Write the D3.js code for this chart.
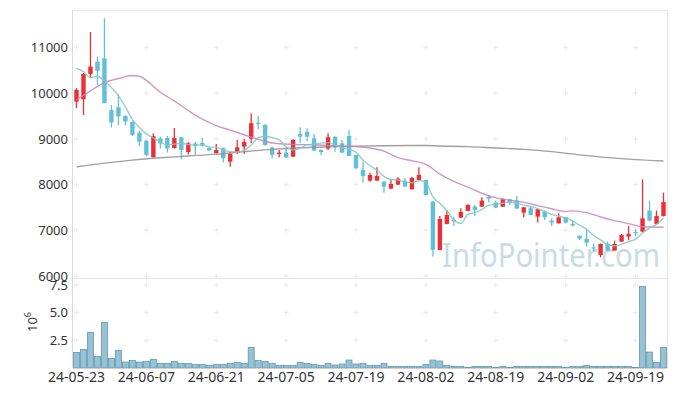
<!DOCTYPE html>
<html lang="en">
<head>
    <meta charset="UTF-8">
    <title>Candles</title>
    <script src="https://d3js.org/d3.v7.min.js"></script>
    <style>
        body { margin: 0; background: #fff; }
        svg { display: block; }
        svg text { font-family: 'Noto Sans', sans-serif; }
        .tick text { fill: #333; font-size: 13px; }
    </style>
</head>
<body>
    <svg width="677" height="396"></svg>
    <script>
        const dates = [
            '24-05-23','24-05-24','24-05-27','24-05-28','24-05-29','24-05-30','24-05-31',
            '24-06-03','24-06-04','24-06-05','24-06-07','24-06-10','24-06-11','24-06-12','24-06-13','24-06-14',
            '24-06-17','24-06-18','24-06-19','24-06-20','24-06-21','24-06-24','24-06-25','24-06-26','24-06-27','24-06-28',
            '24-07-01','24-07-02','24-07-03','24-07-04','24-07-05','24-07-08','24-07-09','24-07-10','24-07-11','24-07-12',
            '24-07-15','24-07-16','24-07-17','24-07-18','24-07-19','24-07-22','24-07-23','24-07-24','24-07-25','24-07-26',
            '24-07-29','24-07-30','24-07-31','24-08-01','24-08-02','24-08-05','24-08-06','24-08-07','24-08-08','24-08-09',
            '24-08-12','24-08-13','24-08-14','24-08-16','24-08-19','24-08-20','24-08-21','24-08-22','24-08-23','24-08-26',
            '24-08-27','24-08-28','24-08-29','24-08-30','24-09-02','24-09-03','24-09-04','24-09-05','24-09-06','24-09-09',
            '24-09-10','24-09-11','24-09-12','24-09-13','24-09-19','24-09-20','24-09-23','24-09-24','24-09-25'
        ];
        const opens = [9814,9866,10420,10690,10760,9630,9690,9500,9370,9136,8960,8600,9010,9020,8800,9034,8713,8900,8910,8800,
            8684,8794,8502,8706,8830,9005,9350,9304,8808,8670,8699,8611,9107,9151,9012,8757,8786,9049,8903,9063,
            8648,8319,8086,8086,8064,7911,7998,8086,7896,8100,8100,7627,6569,7138,7225,7277,7422,7517,7517,7736,
            7605,7517,7677,7649,7386,7481,7298,7408,7211,7152,7284,7138,6875,6810,6627,6460,6700,6555,6751,6861,
            6963,6970,7430,7138,7313];
        const highs = [10110,10440,11340,10800,11640,9740,9980,9520,9380,9180,8970,9120,9050,9060,9240,9040,8932,8930,9027,8830,
            8888,8810,8720,8976,9000,9560,9500,9320,8830,8757,8830,8990,9253,9230,9107,8760,9122,9050,8976,9195,
            8648,8500,8260,8378,8070,8115,8159,8137,8173,8378,8110,7640,7313,7444,7298,7481,7570,7554,7721,7772,
            7649,7700,7690,7750,7510,7517,7465,7430,7262,7371,7290,7225,6897,7043,6700,6710,6752,6773,6920,7094,
            7021,8115,7649,7430,7823];
        const lows = [9670,9520,10330,10180,9780,9250,9300,9300,9060,8845,8620,8590,8790,8700,8790,8553,8655,8650,8830,8740,
            8680,8480,8392,8670,8670,8903,9210,8850,8575,8600,8590,8611,8917,8946,8743,8648,8757,8720,8684,8626,
            8340,8042,8064,8080,7823,7900,7990,7950,7890,8095,7760,6423,6560,7130,7094,7270,7415,7313,7510,7605,
            7480,7510,7554,7470,7284,7330,7167,7225,7094,7150,7152,7080,6788,6642,6532,6409,6550,6550,6745,6788,
            6875,6960,7196,7130,7300];
        const closes = [10070,10420,10580,10490,9780,9360,9490,9380,9085,8940,8650,9060,8900,8790,9020,8757,8903,8840,8852,8745,
            8757,8575,8670,8815,8932,9341,9335,8867,8648,8699,8590,8976,9049,9049,8743,8713,9034,8815,8699,8626,
            8356,8188,8210,8188,7955,8013,8130,7955,8144,8210,7772,6569,7247,7335,7196,7400,7554,7444,7649,7692,
            7495,7677,7605,7473,7502,7335,7459,7284,7167,7284,7167,7109,6817,6729,6598,6700,6555,6700,6897,6919,
            6934,7262,7211,7313,7619];
        // volume in millions of shares
        const volumes = [1.41,1.68,3.21,1.05,4.11,0.87,1.59,0.54,0.69,0.54,0.60,0.78,0.42,0.42,0.60,0.42,0.42,0.33,0.33,0.24,
            0.33,0.33,0.42,0.51,0.42,1.86,0.69,0.60,0.42,0.24,0.24,0.24,0.51,0.42,0.33,0.24,0.42,0.27,0.36,0.72,
            0.36,0.42,0.24,0.24,0.42,0.15,0.15,0.15,0.15,0.15,0.33,0.72,0.63,0.24,0.15,0.15,0.04,0.15,0.15,0.15,
            0.04,0.15,0.04,0.15,0.15,0.15,0.15,0.15,0.15,0.15,0.04,0.15,0.15,0.24,0.15,0.15,0.15,0.15,0.15,0.15,
            0.04,7.37,1.44,0.51,1.86];
        const ma5 = [10550,10470,10340,10370,10268,10126,9940,9700,9419,9251,9109,9023,8927,8868,8884,8905,8874,8862,8874,8819,
            8819,8754,8720,8712,8750,8867,9019,9058,9025,8978,8828,8756,8792,8873,8881,8906,8918,8871,8801,8777,
            8706,8537,8416,8314,8179,8111,8099,8048,8039,8090,8042,7730,7588,7427,7224,7149,7346,7386,7449,7548,
            7567,7591,7624,7588,7550,7518,7475,7411,7349,7306,7272,7202,7109,7021,6884,6791,6680,6656,6690,6754,
            6801,6942,7045,7128,7268];
        // slower averages, read at a subset of days
        const ma20Days = [0,2,4,6,8,9,10,12,14,16,18,20,22,24,26,28,31,34,37,40,42,44,46,48,50,52,54,56,58,60,62,64,66,68,70,71,73,75,77,79,81,84];
        const ma20 = [9850,10050,10230,10320,10385,10370,10280,10020,9830,9620,9430,9290,9190,9090,8990,8910,8880,8870,8850,8830,
            8800,8730,8590,8520,8440,8230,8070,7945,7810,7710,7660,7610,7540,7470,7410,7425,7385,7290,7210,7145,7075,7065];
        const ma120Days = [0,4,8,12,16,20,24,28,32,36,40,44,48,50,52,56,60,64,68,72,76,80,84];
        const ma120 = [8390,8470,8535,8585,8625,8665,8720,8770,8805,8825,8840,8850,8855,8855,8845,8830,8800,8770,8720,8650,8590,8545,8515];

        const priceTicks = [6000, 7000, 8000, 9000, 10000, 11000];
        const volTicks = [2.5, 5.0, 7.5];

        const padL = 73, padR = 667, padT = 10, split = 278, padB = 368;
        const svg = d3.select('svg');

        const x = d3.scaleBand().domain(dates).range([padL, padR]).padding(0);
        const cx = d => x(d) + x.bandwidth() / 2;
        const y = d3.scaleLinear().domain([5955, 11820]).range([split, padT]);
        const yv = d3.scaleLinear().domain([0, 8.13]).range([padB, split]);

        const candles = dates.map((d, i) => ({
            date: d, open: opens[i], high: highs[i], low: lows[i], close: closes[i], vol: volumes[i]
        }));

        // watermark
        svg.append('text')
            .attr('x', 442).attr('y', 267)
            .attr('textLength', 218).attr('lengthAdjust', 'spacingAndGlyphs')
            .style('font-size', '33px')
            .style('fill', '#c9dbe6')
            .text('InfoPointer.com');

        // frame
        const frame = svg.append('g').attr('stroke', '#e6e6e6').attr('fill', 'none');
        frame.append('line').attr('x1', padL).attr('x2', padR).attr('y1', padT + 0.5).attr('y2', padT + 0.5);
        frame.append('line').attr('x1', padL).attr('x2', padR).attr('y1', split + 0.5).attr('y2', split + 0.5);
        frame.append('line').attr('x1', padR + 0.5).attr('x2', padR + 0.5).attr('y1', padT).attr('y2', padB);
        frame.append('line').attr('x1', padL - 0.5).attr('x2', padL - 0.5).attr('y1', padT).attr('y2', padB).attr('stroke', '#dcdcdc');

        // little + marks where the grid would cross
        const xTicks = dates.filter((d, i) => i % 10 === 0);
        const crossY = priceTicks.map(v => y(v)).concat(volTicks.map(v => yv(v)));
        const crosses = svg.append('g').attr('stroke', '#e8e8e8');
        xTicks.forEach(d => {
            crossY.forEach(cy => {
                crosses.append('line').attr('x1', cx(d) - 2.5).attr('x2', cx(d) + 2.5).attr('y1', cy).attr('y2', cy);
                crosses.append('line').attr('x1', cx(d)).attr('x2', cx(d)).attr('y1', cy - 2.5).attr('y2', cy + 2.5);
            });
        });

        // volume bars
        svg.append('g')
            .selectAll('rect')
            .data(candles)
            .enter().append('rect')
            .attr('x', d => x(d.date) + 0.5)
            .attr('width', x.bandwidth() - 1)
            .attr('y', d => yv(d.vol))
            .attr('height', d => padB - yv(d.vol))
            .attr('fill', '#98c1d2')
            .attr('stroke', '#5f9ab5')
            .attr('stroke-width', 0.8);

        svg.append('line')
            .attr('x1', padL).attr('x2', padR)
            .attr('y1', padB + 0.5).attr('y2', padB + 0.5)
            .attr('stroke', '#d0d0d0');

        // candles
        const up = '#ec2f35';
        const down = '#62bfd8';
        const bodyW = 4.4;
        const cg = svg.append('g')
            .selectAll('g')
            .data(candles)
            .enter().append('g');

        cg.append('line')
            .attr('x1', d => cx(d.date)).attr('x2', d => cx(d.date))
            .attr('y1', d => y(d.high)).attr('y2', d => y(d.low))
            .attr('stroke', d => d.close >= d.open ? up : down)
            .attr('stroke-width', 1.3);

        cg.append('rect')
            .attr('x', d => cx(d.date) - bodyW / 2)
            .attr('width', bodyW)
            .attr('y', d => y(Math.max(d.open, d.close)))
            .attr('height', d => Math.max(1.2, Math.abs(y(d.open) - y(d.close))))
            .attr('fill', d => d.close >= d.open ? up : down);

        // moving averages
        const line = d3.line().curve(d3.curveMonotoneX);
        const maLine = (days, vals, color) => {
            svg.append('path')
                .attr('d', line(days.map((k, i) => [cx(dates[k]), y(vals[i])])))
                .attr('fill', 'none')
                .attr('stroke', color)
                .attr('stroke-width', 1.4)
                .attr('stroke-opacity', 0.85);
        };
        maLine(ma120Days, ma120, '#8f8f8f');
        maLine(ma20Days, ma20, '#c783c4');
        maLine(ma5.map((v, i) => i), ma5, '#80c9bf');

        // axes
        const gy = svg.append('g')
            .attr('transform', `translate(${padL},0)`)
            .call(d3.axisLeft(y).tickValues(priceTicks).tickFormat(d3.format('d')).tickSize(0).tickPadding(5));
        gy.select('.domain').remove();

        const gv = svg.append('g')
            .attr('transform', `translate(${padL},0)`)
            .call(d3.axisLeft(yv).tickValues(volTicks).tickFormat(d3.format('.1f')).tickSize(0).tickPadding(5));
        gv.select('.domain').remove();

        const gx = svg.append('g')
            .attr('transform', `translate(0,${padB})`)
            .call(d3.axisBottom(x).tickValues(xTicks).tickSize(0).tickPadding(4));
        gx.select('.domain').remove();
        gx.selectAll('text').style('font-size', '14px');

        svg.append('text')
            .attr('transform', 'translate(37,322) rotate(-90)')
            .attr('text-anchor', 'middle')
            .style('font-size', '13px')
            .style('fill', '#333')
            .html('10<tspan dy="-6" font-size="9px">6</tspan>');
    </script>
</body>
</html>
